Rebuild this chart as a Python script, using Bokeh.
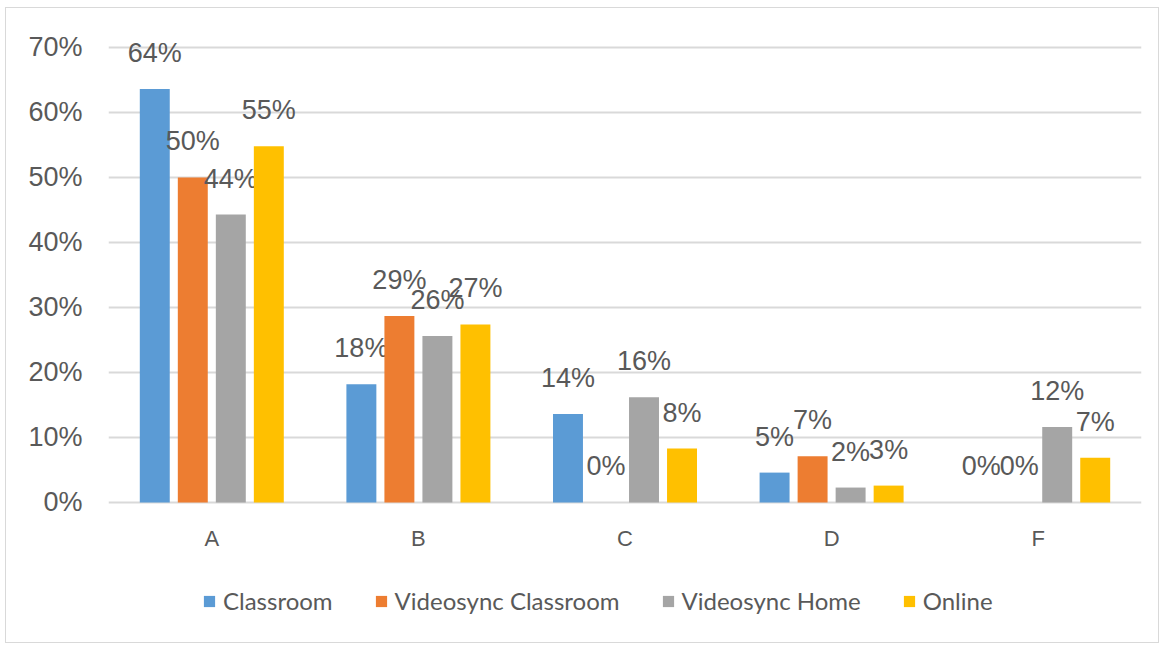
from bokeh.plotting import figure
from bokeh.models import (ColumnDataSource, FactorRange, Range1d, FixedTicker,
                          NumeralTickFormatter, Legend, LegendItem)
from bokeh.transform import dodge
from bokeh.core.properties import value
from bokeh.embed import file_html
from bokeh.resources import INLINE

categories = ["A", "B", "C", "D", "F"]
series_names = ["Classroom", "Videosync Classroom", "Videosync Home", "Online"]
classroom = [0.636, 0.182, 0.136, 0.046, 0.0]
videosync_classroom = [0.500, 0.287, 0.0, 0.071, 0.0]
videosync_home = [0.443, 0.256, 0.162, 0.023, 0.116]
online = [0.548, 0.274, 0.083, 0.026, 0.069]
y_ticks = [0.0, 0.1, 0.2, 0.3, 0.4, 0.5, 0.6, 0.7]

series_values = [classroom, videosync_classroom, videosync_home, online]
colors = ["#5B9BD5", "#ED7D31", "#A5A5A5", "#FFC000"]
offsets = [-0.276, -0.092, 0.092, 0.276]

data = {"cat": categories}
for i, vals in enumerate(series_values):
    data["s%d" % i] = vals
    data["l%d" % i] = ["%d%%" % int(round(v * 100)) for v in vals]
source = ColumnDataSource(data)

# frame extended above and below the value area so labels and legend fit inside it
p = figure(x_range=FactorRange(*categories), y_range=Range1d(-0.20923, 0.75692),
           width=1154, height=636, output_backend="svg", toolbar_location=None,
           min_border_left=102, min_border_right=19, min_border_top=2, min_border_bottom=6)
p.styles = {"border": "1px solid #d9d9d9", "margin-left": "5px", "margin-top": "7px"}
p.outline_line_color = None
p.background_fill_color = "white"
p.border_fill_color = "white"

renderers = []
for i in range(4):
    r = p.vbar(x=dodge("cat", offsets[i], range=p.x_range), top="s%d" % i, bottom=0, width=0.145,
               source=source, fill_color=colors[i], line_color=None)
    renderers.append(r)
    p.text(x=dodge("cat", offsets[i], range=p.x_range), y="s%d" % i, text="l%d" % i,
           source=source, y_offset=-36, text_align="center", text_baseline="middle",
           text_font=value("Liberation Sans"), text_font_size="27px", text_color="#595959")

# category labels under the baseline
p.text(x="cat", y=0, text="cat", source=source, y_offset=36, text_align="center",
       text_baseline="middle", text_font=value("Liberation Sans"), text_font_size="22px",
       text_color="#595959")

p.xaxis.visible = False
p.xgrid.grid_line_color = None
p.ygrid.ticker = FixedTicker(ticks=y_ticks)
p.ygrid.grid_line_color = "#d9d9d9"
p.ygrid.grid_line_width = 2
p.yaxis.ticker = FixedTicker(ticks=y_ticks)
p.yaxis.formatter = NumeralTickFormatter(format="0%")
p.yaxis.axis_line_color = None
p.yaxis.major_tick_line_color = None
p.yaxis.minor_tick_line_color = None
p.yaxis.major_tick_out = 0
p.yaxis.major_tick_in = 0
p.yaxis.major_label_standoff = 26
p.yaxis.major_label_text_font = "Liberation Sans"
p.yaxis.major_label_text_font_size = "27px"
p.yaxis.major_label_text_color = "#595959"

legend = Legend(items=[LegendItem(label=series_names[i], renderers=[renderers[i]]) for i in range(4)],
                orientation="horizontal", location=(94, 23),
                glyph_width=14, glyph_height=14, label_standoff=7, spacing=41,
                padding=0, margin=0, border_line_color=None, background_fill_alpha=0,
                label_text_font="Lato", label_text_font_size="24px",
                label_text_color="#595959")
p.add_layout(legend, "center")

open("out.html", "w").write(file_html(p, INLINE))
